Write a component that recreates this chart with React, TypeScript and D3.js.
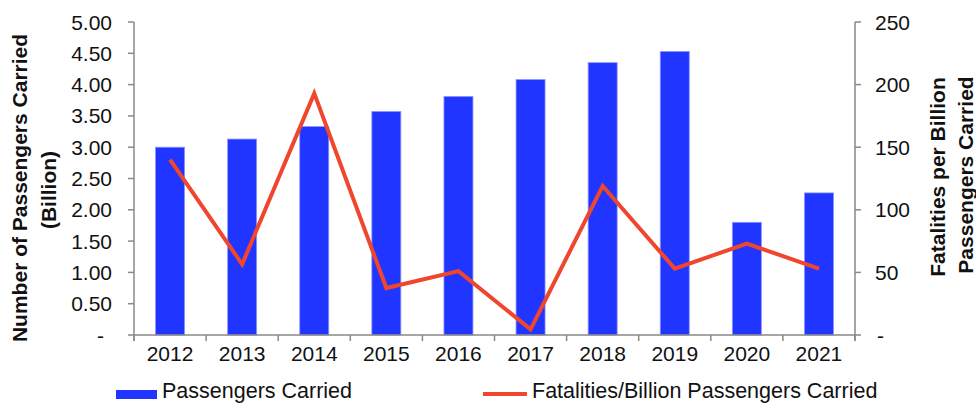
import React from "react";
import * as d3 from "d3";

const years = ["2012", "2013", "2014", "2015", "2016", "2017", "2018", "2019", "2020", "2021"];
const passengers = [3.0, 3.13, 3.33, 3.57, 3.81, 4.08, 4.35, 4.53, 1.8, 2.27];
const fatalities = [140, 56.5, 193, 37.5, 51, 4.5, 119, 53, 73, 53];
const leftTicks = [0, 0.5, 1, 1.5, 2, 2.5, 3, 3.5, 4, 4.5, 5];
const rightTicks = [0, 50, 100, 150, 200, 250];

const W = 976;
const H = 404;
const X0 = 134;
const X1 = 855;
const Y0 = 335;
const Y1 = 22;
const AXIS = "#898989";
const BAR = "#2035FF";
const LINE = "#F0462D";
const FONT = "'Liberation Sans', Arial, Helvetica, sans-serif";

export default function App() {
  const x = d3.scaleBand<string>().domain(years).range([X0, X1]).padding(0);
  const yL = d3.scaleLinear().domain([0, 5]).range([Y0, Y1]);
  const yR = d3.scaleLinear().domain([0, 250]).range([Y0, Y1]);
  const bw = 29;
  const line = d3
    .line<number>()
    .x((_, i) => (x(years[i]) as number) + x.bandwidth() / 2)
    .y((d) => yR(d));
  const boundaries = years.map((y) => x(y) as number).concat([X1]);

  return (
    <svg
      width={W}
      height={H}
      style={{ position: "absolute", left: 0, top: 0, background: "#fff" }}
      fontFamily={FONT}
    >
      {/* bars */}
      {passengers.map((v, i) => (
        <rect
          key={years[i]}
          x={(x(years[i]) as number) + x.bandwidth() / 2 - bw / 2}
          y={yL(v)}
          width={bw}
          height={Y0 - yL(v)}
          fill={BAR}
          stroke="#8a95ff"
          strokeWidth={0.8}
        />
      ))}

      {/* axes */}
      <line x1={X0} x2={X0} y1={Y1} y2={Y0 + 6} stroke={AXIS} strokeWidth={1.5} />
      <line x1={X1} x2={X1} y1={Y1} y2={Y0 + 6} stroke={AXIS} strokeWidth={1.5} />
      <line x1={X0} x2={X1} y1={Y0} y2={Y0} stroke={AXIS} strokeWidth={1.5} />
      {leftTicks.map((t) => (
        <g key={"l" + t}>
          <line x1={X0 - 6} x2={X0} y1={yL(t)} y2={yL(t)} stroke={AXIS} strokeWidth={1.5} />
          <text
            x={t === 0 ? 104 : 112}
            y={yL(t)}
            dy="0.36em"
            textAnchor="end"
            fontSize={21}
            fill="#111"
          >
            {t === 0 ? "-" : d3.format(".2f")(t)}
          </text>
        </g>
      ))}
      {rightTicks.map((t) => (
        <g key={"r" + t}>
          <line x1={X1} x2={X1 + 6} y1={yR(t)} y2={yR(t)} stroke={AXIS} strokeWidth={1.5} />
          <text x={t === 0 ? 877 : 875} y={yR(t)} dy="0.36em" textAnchor="start" fontSize={21} fill="#111">
            {t === 0 ? "-" : String(t)}
          </text>
        </g>
      ))}
      {boundaries.map((b, i) => (
        <line key={"b" + i} x1={b} x2={b} y1={Y0} y2={Y0 + 6} stroke={AXIS} strokeWidth={1.5} />
      ))}
      {years.map((y) => (
        <text
          key={"t" + y}
          x={(x(y) as number) + x.bandwidth() / 2}
          y={361}
          textAnchor="middle"
          fontSize={21}
          fill="#111"
        >
          {y}
        </text>
      ))}

      {/* line */}
      <path
        d={line(fatalities) || ""}
        fill="none"
        stroke={LINE}
        strokeWidth={4}
        strokeLinejoin="miter"
      />

      {/* axis titles */}
      <text
        transform="translate(27,188) rotate(-90)"
        textAnchor="middle"
        fontSize={21}
        fontWeight="bold"
        fill="#111"
      >
        Number of Passengers Carried
      </text>
      <text
        transform="translate(56,190) rotate(-90)"
        textAnchor="middle"
        fontSize={21}
        fontWeight="bold"
        fill="#111"
      >
        (Billion)
      </text>
      <text
        transform="translate(945,177) rotate(-90)"
        textAnchor="middle"
        fontSize={21}
        fontWeight="bold"
        fill="#111"
      >
        Fatalities per Billion
      </text>
      <text
        transform="translate(973,175) rotate(-90)"
        textAnchor="middle"
        fontSize={21}
        fontWeight="bold"
        fill="#111"
      >
        Passengers Carried
      </text>

      {/* legend */}
      <rect x={116} y={390} width={41} height={9} fill={BAR} />
      <text x={162} y={398} fontSize={21.5} fill="#111">
        Passengers Carried
      </text>
      <line x1={483} x2={527} y1={394} y2={394} stroke={LINE} strokeWidth={4} />
      <text x={532} y={398} fontSize={21.5} fill="#111">
        Fatalities/Billion Passengers Carried
      </text>
    </svg>
  );
}
